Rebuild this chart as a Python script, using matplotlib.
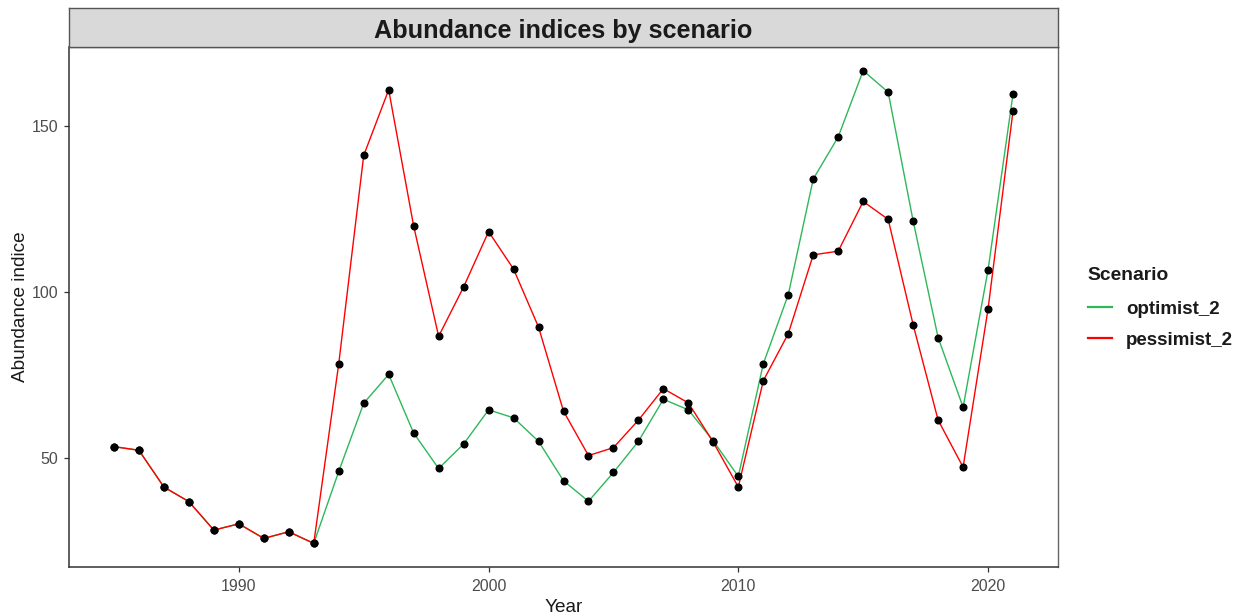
#!/usr/bin/env python3
"""Abundance indices by scenario (optimist_2 vs pessimist_2), ggplot-like look."""

import matplotlib

matplotlib.use("Agg")
import matplotlib.pyplot as plt
from matplotlib.lines import Line2D
import numpy as np

plt.rcParams["font.family"] = ["Liberation Sans", "DejaVu Sans"]

years = np.arange(1985, 2022)

optimist_2 = [
    53.3, 52.2, 41.1, 36.7, 28.1, 30.0, 25.6, 27.6, 24.1,
    45.8, 66.4, 75.1, 57.4, 46.7, 54.1, 64.4, 62.0, 54.9, 43.0, 36.8,
    45.5, 54.9, 67.6, 64.4, 55.0, 44.3, 78.3, 99.2, 134.1, 146.8,
    166.8, 160.3, 121.4, 86.2, 65.2, 106.7, 159.8,
]
pessimist_2 = [
    53.3, 52.2, 41.1, 36.7, 28.1, 30.0, 25.6, 27.6, 24.1,
    78.3, 141.2, 161.0, 119.9, 86.6, 101.5, 118.2, 106.9, 89.4, 64.0, 50.6,
    53.0, 61.3, 70.8, 66.5, 54.6, 41.1, 73.2, 87.4, 111.2, 112.3,
    127.3, 121.9, 90.1, 61.3, 47.1, 94.9, 154.7,
]

scenarios = ["optimist_2", "pessimist_2"]
colours = {"optimist_2": "#2DB85A", "pessimist_2": "#FF0000"}
series = {"optimist_2": optimist_2, "pessimist_2": pessimist_2}

y_ticks = [50, 100, 150]
x_ticks = [1990, 2000, 2010, 2020]

W, H = 1243, 616
fig = plt.figure(figsize=(W / 100, H / 100), dpi=100)

# panel box in pixels: x 69..1058, y 47..567
left, right, top, bottom = 69, 1058, 47, 567
ax = fig.add_axes([left / W, 1 - bottom / H, (right - left) / W, (bottom - top) / H])

for name in scenarios:
    ax.plot(years, series[name], color=colours[name], lw=1.0, zorder=2)
for name in scenarios:
    ax.plot(years, series[name], ls="none", marker="o", ms=4.8,
            color="black", zorder=3)

ax.set_xlim(1983.2, 2022.8)
all_vals = np.concatenate([optimist_2, pessimist_2])
span = all_vals.max() - all_vals.min()
ax.set_ylim(all_vals.min() - 0.05 * span, all_vals.max() + 0.05 * span)
ax.set_xticks(x_ticks)
ax.set_yticks(y_ticks)
ax.tick_params(axis="both", length=3.5, width=0.9, color="#333333",
               labelsize=11.5, labelcolor="#4D4D4D")
ax.tick_params(axis="x", pad=5)
ax.tick_params(axis="y", pad=4)

for side in ("left", "bottom"):
    ax.spines[side].set_color("#333333")
    ax.spines[side].set_linewidth(1.1)
for side in ("top", "right"):
    ax.spines[side].set_color("#666666")
    ax.spines[side].set_linewidth(1.0)

ax.set_xlabel("Year", fontsize=13.7, color="#1A1A1A", labelpad=4)
ax.set_ylabel("Abundance indice", fontsize=13.7, color="#1A1A1A", labelpad=2)

# facet-style title strip
strip = fig.add_axes([left / W, 1 - top / H, (right - left) / W, (top - 8) / H])
strip.set_facecolor("#D9D9D9")
strip.set_xticks([])
strip.set_yticks([])
for sp in strip.spines.values():
    sp.set_color("#555555")
    sp.set_linewidth(1.0)
strip.text(0.5, 0.42, "Abundance indices by scenario", transform=strip.transAxes,
           ha="center", va="center", fontsize=18.2, fontweight="bold",
           color="#1A1A1A")

# legend: title placed by hand, keys via fig.legend
fig.text(1087 / W, 1 - 276 / H, "Scenario", ha="left", va="center",
         fontsize=13.9, fontweight="bold", color="#1A1A1A")
handles = [Line2D([], [], color=colours[name], lw=1.6) for name in scenarios]
leg = fig.legend(
    handles, scenarios,
    loc="upper left", bbox_to_anchor=(1086 / W, 1 - 299 / H),
    frameon=False,
    prop={"size": 13.5, "weight": "bold"},
    handlelength=1.3, handletextpad=0.75, labelspacing=0.72,
    borderaxespad=0, borderpad=0.1,
)
for txt in leg.get_texts():
    txt.set_color("#1A1A1A")

fig.savefig("out.png", dpi=100)
